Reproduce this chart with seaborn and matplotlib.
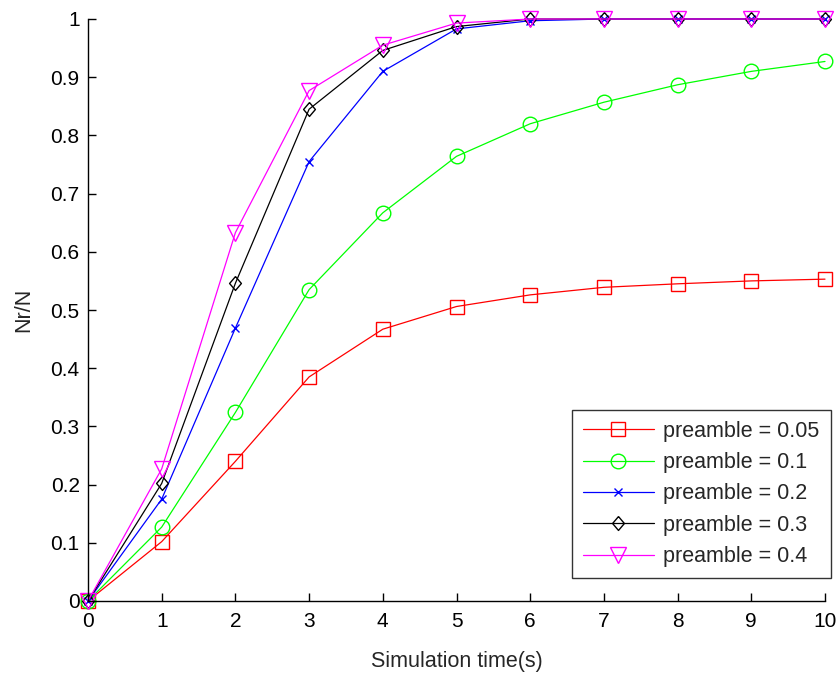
import numpy as np
import pandas as pd
import matplotlib
matplotlib.use("Agg")
import matplotlib.pyplot as plt
import seaborn as sns

sns.set_style("white")
plt.rcParams['font.family'] = ['Liberation Sans', 'DejaVu Sans']

time_s = [0, 1, 2, 3, 4, 5, 6, 7, 8, 9, 10]
labels = ["preamble = 0.05", "preamble = 0.1", "preamble = 0.2", "preamble = 0.3", "preamble = 0.4"]
p005 = [0, 0.102, 0.240, 0.385, 0.467, 0.506, 0.526, 0.539, 0.545, 0.550, 0.553]
p01 = [0, 0.127, 0.324, 0.535, 0.667, 0.764, 0.820, 0.857, 0.887, 0.910, 0.927]
p02 = [0, 0.175, 0.469, 0.755, 0.910, 0.983, 0.997, 1.0, 1.0, 1.0, 1.0]
p03 = [0, 0.202, 0.546, 0.845, 0.946, 0.987, 1.0, 1.0, 1.0, 1.0, 1.0]
p04 = [0, 0.227, 0.633, 0.877, 0.955, 0.993, 1.0, 1.0, 1.0, 1.0, 1.0]
series = [p005, p01, p02, p03, p04]

colors = ["#FF0000", "#00FF00", "#0000FF", "#000000", "#FF00FF"]
diamond = [(0, 1), (0.85, 0), (0, -1), (-0.85, 0), (0, 1)]
markers = ["s", "o", "x", diamond, "v"]
msizes = [10, 10.5, 6, 10, 11]

frames = []
for lab, vals in zip(labels, series):
    frames.append(pd.DataFrame({"t": time_s, "v": vals, "series": lab}))
df = pd.concat(frames, ignore_index=True)

fig = plt.figure(figsize=(8.38, 6.74), dpi=100)
ax = fig.add_axes([88/838, 1-601/674, (825-88)/838, (601-19)/674])

for lab, c, m, ms in zip(labels, colors, markers, msizes):
    sub = df[df["series"] == lab]
    sns.lineplot(data=sub, x="t", y="v", ax=ax, color=c, marker=m, markersize=ms,
                 markerfacecolor="none", markeredgecolor=c, markeredgewidth=1.0,
                 linewidth=0.9, label=lab, clip_on=False, legend=False)

ax.set_xlim(0, 10)
ax.set_ylim(0, 1)
ax.set_xticks(range(0, 11))
ax.set_xticklabels([str(i) for i in range(0, 11)])
yt = [0, 0.1, 0.2, 0.3, 0.4, 0.5, 0.6, 0.7, 0.8, 0.9, 1.0]
ax.set_yticks(yt)
ax.set_yticklabels(["0", "0.1", "0.2", "0.3", "0.4", "0.5", "0.6", "0.7", "0.8", "0.9", "1"])
for s in ["top", "right"]:
    ax.spines[s].set_visible(False)
for s in ["left", "bottom"]:
    ax.spines[s].set_color("black")
    ax.spines[s].set_linewidth(1.0)
ax.tick_params(axis="both", direction="in", length=6, width=1, labelsize=15, colors="black",
               left=True, bottom=True)
ax.tick_params(axis="x", pad=8)
ax.tick_params(axis="y", pad=6)
ax.set_xlabel("Simulation time(s)", fontsize=15.5, labelpad=14)
ax.set_ylabel("Nr/N", fontsize=15.5, labelpad=12)

handles, labs = ax.get_legend_handles_labels()
leg = fig.legend(handles, labs, loc="upper left", bbox_to_anchor=(572/838, 1-410/674),
                 bbox_transform=fig.transFigure, frameon=True, fancybox=False, fontsize=15.5,
                 borderaxespad=0, handlelength=3.3, handletextpad=0.45, labelspacing=0.48,
                 borderpad=0.5)
leg.get_frame().set_edgecolor("black")
leg.get_frame().set_linewidth(1.0)

fig.savefig("out.png", dpi=100)
